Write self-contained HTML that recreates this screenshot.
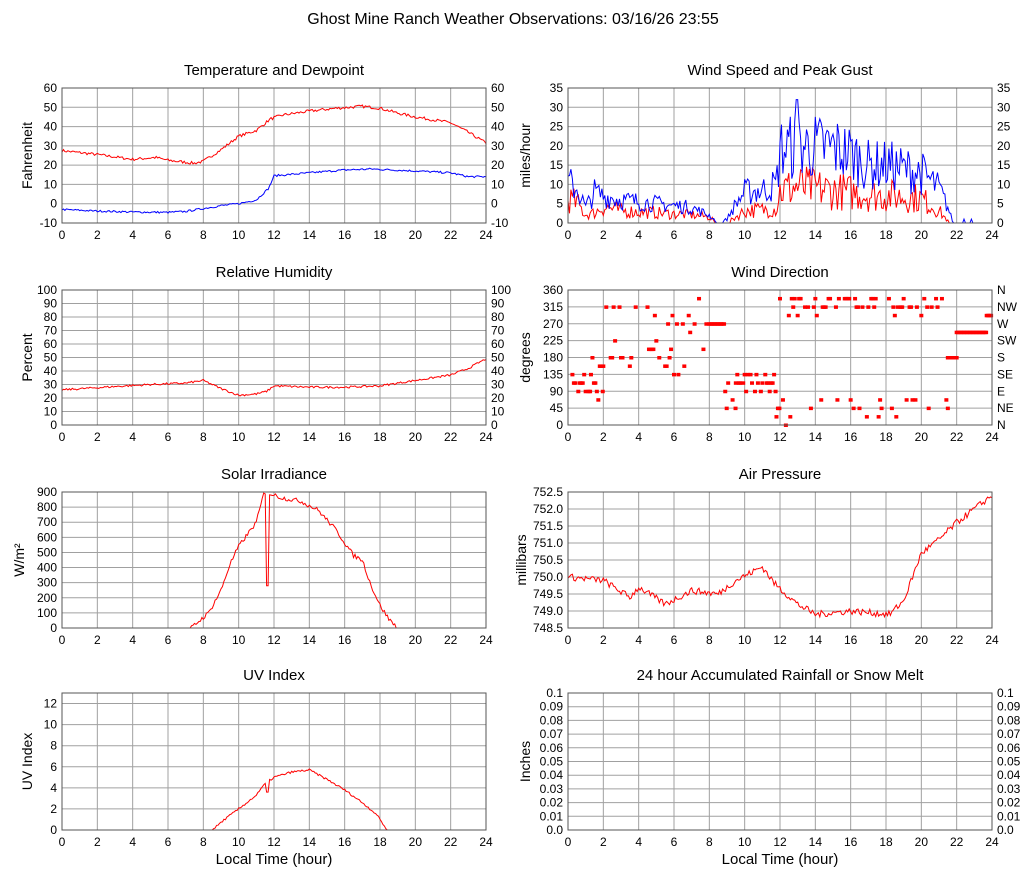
<!DOCTYPE html>
<html><head><meta charset="utf-8"><style>
html,body{margin:0;padding:0;background:#fff;}
svg{display:block;font-family:"Liberation Sans",sans-serif;}
</style></head><body>
<svg id="s" width="1027" height="878" xmlns="http://www.w3.org/2000/svg">
<text x="513" y="24" font-size="16" text-anchor="middle">Ghost Mine Ranch Weather Observations: 03/16/26 23:55</text>
</svg>
<script>
var S=document.getElementById('s'),NS='http://www.w3.org/2000/svg';
function el(n,a,t){var e=document.createElementNS(NS,n);for(var k in a)e.setAttribute(k,a[k]);if(t!==undefined)e.textContent=t;S.appendChild(e);return e;}
var seed=7;function rnd(){seed=(seed*16807)%2147483647;return (seed-1)/2147483646;}
function interp(pts,t){for(var i=0;i<pts.length-1;i++){if(t<=pts[i+1][0]){var a=pts[i],b=pts[i+1];var f=(t-a[0])/(b[0]-a[0]||1);return a[1]+(b[1]-a[1])*f;}}return pts[pts.length-1][1];}
function panel(o){
 var x0=o.x0,x1=o.x0+424,y0=o.y0,y1=o.y0+o.h;
 var X=function(t){return x0+(x1-x0)*t/24},Y=function(v){return y1-(v-o.min)/(o.max-o.min)*(y1-y0)};
 for(var t=2;t<24;t+=2)el('line',{x1:X(t),x2:X(t),y1:y0,y2:y1,stroke:'#a0a0a0','stroke-width':1});
 o.ticks.forEach(function(v){var y=Y(v);if(v>o.min&&v<o.max)el('line',{x1:x0,x2:x1,y1:y,y2:y,stroke:'#a0a0a0','stroke-width':1});
  el('text',{x:x0-5,y:y+4,'font-size':12,'text-anchor':'end'},o.fmt?o.fmt(v):v);
  if(o.right)el('text',{x:x1+5,y:y+4,'font-size':12},o.rl?o.rl(v):(o.fmt?o.fmt(v):v));});
 for(var t=0;t<=24;t+=2)el('text',{x:X(t),y:y1+16,'font-size':12,'text-anchor':'middle'},t);
 el('text',{x:(x0+x1)/2,y:y0-13,'font-size':15,'text-anchor':'middle'},o.title);
 el('text',{x:0,y:0,'font-size':14,'text-anchor':'middle',transform:'translate('+(x0-o.lx)+','+((y0+y1)/2)+') rotate(-90)'},o.ylab);
 if(o.xlab)el('text',{x:(x0+x1)/2,y:y1+34,'font-size':15,'text-anchor':'middle'},'Local Time (hour)');
 (o.series||[]).forEach(function(s){var d='';for(var i=0;i<=288;i++){var t=i/12;var v=s.f(t);v=Math.max(o.min,Math.min(o.max,v));d+=(i?'L':'M')+X(t).toFixed(1)+','+Y(v).toFixed(1);}
  el('path',{d:d,fill:'none',stroke:s.c,'stroke-width':1});});
 if(o.dots)o.dots.forEach(function(p){el('rect',{x:X(p[0])-2,y:Y(p[1])-1.5,width:4,height:3.5,fill:'#f00'});});
 el('rect',{x:x0,y:y0,width:x1-x0,height:y1-y0,fill:'none',stroke:'#555','stroke-width':1});
}
function noisy(pts,amp){return function(t){return interp(pts,t)+(rnd()-0.5)*amp;};}
var L=62,R=568;
panel({x0:L,y0:88,h:135,min:-10,max:60,ticks:[-10,0,10,20,30,40,50,60],right:1,title:'Temperature and Dewpoint',ylab:'Fahrenheit',lx:30,
 series:[{c:'#f00',f:noisy([[0,27.5],[2,25.5],[4,23],[5.3,24],[6,22.5],[7.5,21],[8,22],[9,28],[10,35],[11,38],[11.8,44],[12.5,46],[14,48],[15.5,49.5],[17,50.5],[18,49.5],[19,47],[20,45],[22,42],[23,37],[24,31.5]],1.5)},
 {c:'#00f',f:noisy([[0,-3],[2,-3.8],[4,-4.3],[6,-4.5],[7,-4],[8,-2.5],[9,-1],[10,0],[11,2],[11.7,8],[12,14.5],[14,16],[16,17.5],[17.5,18],[20,17],[22,16],[23,14],[24,14]],1)}]});
var gs=[[0,10.5],[0.5,9],[1,4],[1.5,8],[2,7],[3,6],[4,5.5],[5,5],[6,4.5],[7,4],[8,2],[8.5,0],[9,1],[9.5,5],[10,8],[11,8.5],[11.8,10],[12,19],[13,20],[15,19.5],[16,18],[17,15],[18,15],[19,14],[20,13],[21,9],[21.5,4],[21.8,0],[24,0]];
var ws=[[0,6],[0.5,5],[1,2],[1.5,2.5],[2,4],[3,3],[5,2.5],[7,2],[8,1.5],[8.5,0],[9,0],[9.5,1.5],[10,3],[11.8,3.5],[12,8],[13,9],[15,8],[17,7],[19,6.5],[20,6],[21,3],[21.6,0],[24,0]];
panel({x0:R,y0:88,h:135,min:0,max:35,ticks:[0,5,10,15,20,25,30,35],right:1,title:'Wind Speed and Peak Gust',ylab:'miles/hour',lx:38,
 series:[{c:'#f00',f:function(t){var v=interp(ws,t);return v>0.5?v*(0.4+rnd()*1.3):0;}},
 {c:'#00f',f:function(t){var v=interp(gs,t);if(t>12.9&&t<13.05)return 32;return v>0.5?v*(0.55+rnd()*0.9):(t>22&&rnd()<0.05?1:0);}}]});
panel({x0:L,y0:290,h:135,min:0,max:100,ticks:[0,10,20,30,40,50,60,70,80,90,100],right:1,title:'Relative Humidity',ylab:'Percent',lx:30,
 series:[{c:'#f00',f:noisy([[0,26],[3,28.5],[5,30],[7,31],[8,33],[9,27],[10,22],[11,23],[11.6,25],[12,29],[14,28],[16,28],[18,29],[20,33],[21,35],[22,37],[23,42],[24,49]],1.5)}]});
var dots=[];
function seg(a,b,fn,p){for(var t=a;t<b;t+=1/12){if(rnd()<p){var v=fn();dots.push([t,Math.round(v/22.5)*22.5]);}}}
seg(0,1.3,function(){return 90+rnd()*45},0.8);
seg(1.3,2,function(){return 70+rnd()*155},0.7);
seg(2,8,function(){return 135+rnd()*205},0.55);
seg(8,8.9,function(){return 270},1);
seg(8.9,9.5,function(){return 45+rnd()*90},0.7);
seg(9.5,11.8,function(){return 90+rnd()*45},0.8);
seg(11.8,12,function(){return rnd()*45},1);
seg(12,21.5,function(){return rnd()<0.35?rnd()*70:292+rnd()*50},0.6);
seg(21.5,22,function(){return 180},1);
seg(22,23.7,function(){return 247.5},1);
seg(23.7,24,function(){return 292.5},1);
var dl={0:'N',45:'NE',90:'E',135:'SE',180:'S',225:'SW',270:'W',315:'NW',360:'N'};
panel({x0:R,y0:290,h:135,min:0,max:360,ticks:[0,45,90,135,180,225,270,315,360],right:1,rl:function(v){return dl[v]},title:'Wind Direction',ylab:'degrees',lx:38,dots:dots});
panel({x0:L,y0:492,h:136,min:0,max:900,ticks:[0,100,200,300,400,500,600,700,800,900],title:'Solar Irradiance',ylab:'W/m²',lx:38,
 series:[{c:'#f00',f:function(t){if(t>11.55&&t<11.7)return 280;var v=interp([[0,0],[7.3,0],[8.3,100],[9,250],[9.5,420],[10,540],[10.5,620],[11,700],[11.4,880],[11.5,900],[12.5,860],[13.5,840],[14.5,780],[15.5,650],[16.5,480],[17,450],[17.5,280],[18,150],[18.5,60],[19,0],[24,0]],t);return v>0?v+(rnd()-0.5)*30:0;}}]});
panel({x0:R,y0:492,h:136,min:748.5,max:752.5,ticks:[748.5,749,749.5,750,750.5,751,751.5,752,752.5],fmt:function(v){return v.toFixed(1)},title:'Air Pressure',ylab:'millibars',lx:42,
 series:[{c:'#f00',f:noisy([[0,750],[2,749.9],[3.5,749.4],[4,749.7],[5.5,749.2],[7,749.6],[8.5,749.5],[9.5,749.9],[11,750.3],[11.7,749.8],[13,749.2],[14,748.9],[16,749],[18.2,748.9],[19,749.3],[20,750.7],[21,751.1],[22,751.6],[23,752],[24,752.4]],0.2)}]});
panel({x0:L,y0:693,h:137,min:0,max:13,ticks:[0,2,4,6,8,10,12],title:'UV Index',ylab:'UV Index',lx:30,xlab:1,
 series:[{c:'#f00',f:function(t){if(t>11.55&&t<11.7)return 3.6;var v=interp([[0,0],[8.5,0],[9.2,1],[10,2],[11,3.3],[11.5,4.4],[12,5],[13,5.5],[14,5.7],[15,4.8],[16,3.8],[17,2.6],[17.8,1.5],[18.4,0],[24,0]],t);return v>0?v+(rnd()-0.5)*0.2:0;}}]});
panel({x0:R,y0:693,h:137,min:0,max:0.1,ticks:[0,0.01,0.02,0.03,0.04,0.05,0.06,0.07,0.08,0.09,0.1],fmt:function(v){return v==0?'0.0':(+v.toFixed(2)).toString()},right:1,title:'24 hour Accumulated Rainfall or Snow Melt',ylab:'Inches',lx:38,xlab:1});
</script>
</body></html>
